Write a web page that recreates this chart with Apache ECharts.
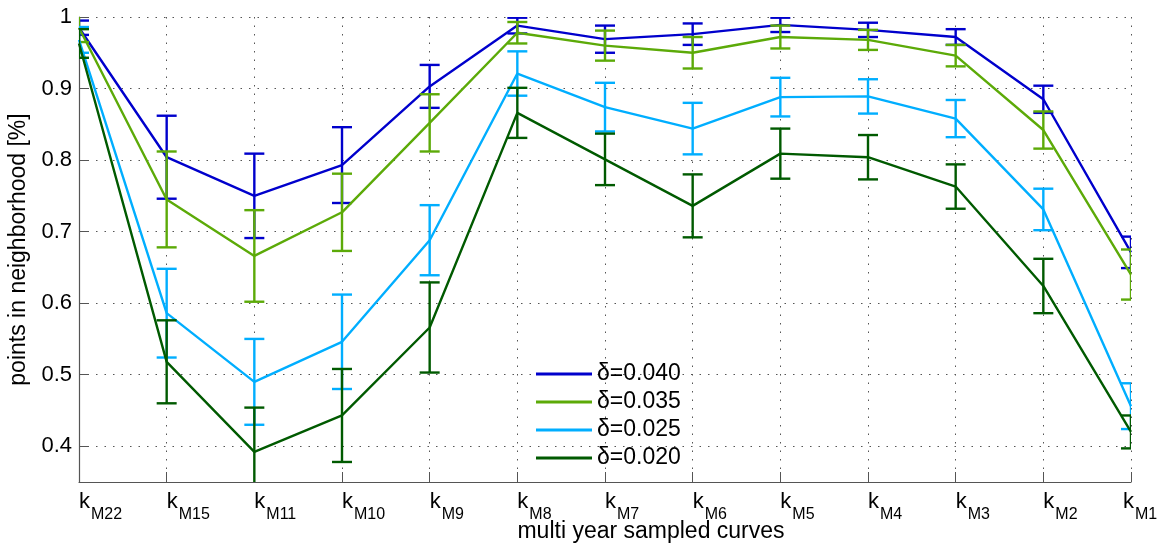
<!DOCTYPE html>
<html>
<head>
<meta charset="utf-8">
<script src="https://cdn.jsdelivr.net/npm/echarts@6/dist/echarts.min.js"></script>
<style>html,body{margin:0;padding:0;background:#fff;}#chart{width:1161px;height:545px;}</style>
</head>
<body>
<div id="chart"></div>
<script>
var categories = ['M22','M15','M11','M10','M9','M8','M7','M6','M5','M4','M3','M2','M1'];
var seriesNames = ['δ=0.040','δ=0.035','δ=0.025','δ=0.020'];
var mean040 = [0.985, 0.804, 0.750, 0.793, 0.903, 0.988, 0.969, 0.976, 0.989, 0.982, 0.972, 0.885, 0.671];
var err040  = [0.010, 0.058, 0.059, 0.053, 0.030, 0.011, 0.019, 0.015, 0.010, 0.010, 0.011, 0.019, 0.022];
var mean035 = [0.985, 0.745, 0.666, 0.727, 0.852, 0.978, 0.960, 0.950, 0.972, 0.968, 0.946, 0.842, 0.640];
var err035  = [0.020, 0.067, 0.064, 0.054, 0.040, 0.015, 0.021, 0.022, 0.016, 0.014, 0.015, 0.026, 0.035];
var mean025 = [0.968, 0.586, 0.490, 0.546, 0.688, 0.921, 0.874, 0.844, 0.888, 0.889, 0.858, 0.731, 0.456];
var err025  = [0.018, 0.062, 0.060, 0.066, 0.049, 0.031, 0.034, 0.036, 0.027, 0.024, 0.026, 0.029, 0.032];
var mean020 = [0.963, 0.518, 0.392, 0.443, 0.566, 0.866, 0.801, 0.736, 0.809, 0.804, 0.763, 0.624, 0.420];
var err020  = [0.020, 0.058, 0.062, 0.065, 0.063, 0.035, 0.036, 0.044, 0.035, 0.031, 0.031, 0.038, 0.023];
var colors = ['#0000CC', '#5CAA08', '#00AEFF', '#005A00'];

var means = [mean040, mean035, mean025, mean020];
var errs = [err040, err035, err025, err020];

var chart = echarts.init(document.getElementById('chart'), null, {renderer: 'canvas'});
var FONT = 'Liberation Sans, Arial, Helvetica, sans-serif';

function errorRender(color) {
  return function (params, api) {
    var x = api.value(0);
    var lo = api.coord([x, api.value(1)]);
    var hi = api.coord([x, api.value(2)]);
    var hw = 10;
    var style = {stroke: color, lineWidth: 2.4, fill: null};
    return {
      type: 'group',
      children: [
        {type: 'line', shape: {x1: lo[0], y1: lo[1], x2: hi[0], y2: hi[1]}, style: style},
        {type: 'line', shape: {x1: lo[0] - hw, y1: lo[1], x2: lo[0] + hw, y2: lo[1]}, style: style},
        {type: 'line', shape: {x1: hi[0] - hw, y1: hi[1], x2: hi[0] + hw, y2: hi[1]}, style: style}
      ]
    };
  };
}

var series = [];
for (var s = 0; s < 4; s++) {
  var ed = [];
  for (var i = 0; i < categories.length; i++) {
    ed.push([i, means[s][i] - errs[s][i], means[s][i] + errs[s][i]]);
  }
  series.push({
    name: seriesNames[s],
    type: 'line',
    data: means[s],
    symbol: 'none',
    lineStyle: {color: colors[s], width: 2.4},
    itemStyle: {color: colors[s]},
    z: 3 + s,
    clip: true
  });
  series.push({
    name: seriesNames[s] + ' err',
    type: 'custom',
    data: ed,
    renderItem: errorRender(colors[s]),
    encode: {x: 0, y: [1, 2]},
    clip: true,
    z: 3 + s
  });
}

var dotted = {color: '#555', width: 1, type: [1.5, 7]};
var lastIdx = categories.length - 1;

chart.setOption({
  animation: false,
  backgroundColor: '#fff',
  grid: {left: 79, right: 30, top: 17, bottom: 63, containLabel: false, outerBoundsMode: 'none'},
  legend: {
    data: seriesNames,
    orient: 'vertical',
    left: 531,
    top: 355,
    icon: 'rect',
    itemWidth: 56,
    itemHeight: 3,
    itemGap: 0,
    textStyle: {fontFamily: FONT, fontSize: 23, color: '#000', lineHeight: 28, padding: [0, 0, 0, 0]}
  },
  xAxis: {
    type: 'category',
    data: categories,
    boundaryGap: false,
    name: 'multi year sampled curves',
    nameLocation: 'middle',
    nameGap: 38,
    nameMoveOverlap: false,
    nameTextStyle: {fontFamily: FONT, fontSize: 23, color: '#000', padding: [0, 0, 0, 92]},
    axisLine: {lineStyle: {color: '#555', width: 1.2}},
    axisTick: {show: true, inside: true, length: 10, lineStyle: {color: '#555'}},
    axisLabel: {
      margin: 9,
      align: 'left',
      alignMaxLabel: 'center',
      formatter: function (v, idx) {
        return (idx === lastIdx ? '{k2|k}' : '{k|k}') + '{s|' + v + '}';
      },
      rich: {
        k: {fontFamily: FONT, fontSize: 22, color: '#000', lineHeight: 22, verticalAlign: 'top'},
        k2: {fontFamily: FONT, fontSize: 22, color: '#000', lineHeight: 22, verticalAlign: 'top', padding: [0, 0, 0, 18]},
        s: {fontFamily: FONT, fontSize: 16, color: '#000', lineHeight: 16, verticalAlign: 'top', padding: [16, 0, 0, 1]}
      }
    },
    splitLine: {show: true, lineStyle: dotted}
  },
  yAxis: {
    type: 'value',
    min: 0.35,
    max: 1,
    splitNumber: 7,
    name: 'points in neighborhood [%]',
    nameLocation: 'middle',
    nameGap: 40,
    nameTextStyle: {fontFamily: FONT, fontSize: 23, color: '#000'},
    axisLine: {show: true, lineStyle: {color: '#555', width: 1.2}},
    axisTick: {show: true, inside: true, length: 10, lineStyle: {color: '#555'}},
    axisLabel: {
      margin: 7,
      fontFamily: FONT,
      fontSize: 22,
      color: '#000',
      showMinLabel: false,
      formatter: function (v) { return Math.abs(v - 0.35) < 1e-6 ? '' : String(Math.round(v * 10) / 10); }
    },
    splitLine: {show: true, lineStyle: dotted}
  },
  series: series
});
</script>
</body>
</html>
